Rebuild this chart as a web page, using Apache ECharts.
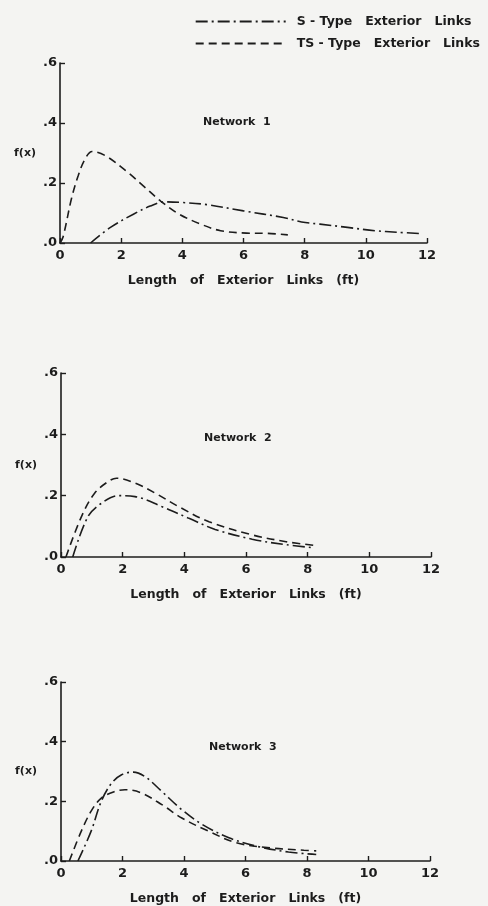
<!DOCTYPE html>
<html>
<head>
<meta charset="utf-8">
<script src="https://cdn.jsdelivr.net/npm/echarts@6/dist/echarts.min.js"></script>
<style>
  html, body { margin: 0; padding: 0; background: #f4f4f2; }
  #chart { width: 488px; height: 906px; }
</style>
</head>
<body>
<div id="chart"></div>
<script>
// ---- data (x in ft, f(x)) ----
var xTicks = [0, 2, 4, 6, 8, 10, 12];
var yTicks = [0, 0.2, 0.4, 0.6];
var panelTitles = ['Network  1', 'Network  2', 'Network  3'];
var seriesNames = ['S - Type   Exterior   Links', 'TS - Type   Exterior   Links'];

var net1S  = [[1.0,0],[1.65,0.052],[2.4,0.096],[2.95,0.123],[3.4,0.137],[4.0,0.135],[4.8,0.128],[6.0,0.107],[7.3,0.085],[7.9,0.07],[8.5,0.063],[9.4,0.052],[10.3,0.041],[11.0,0.036],[11.85,0.031]];
var net1TS = [[0,0],[0.1,0.02],[0.38,0.15],[0.6,0.226],[0.82,0.28],[1.05,0.305],[1.5,0.29],[2.2,0.237],[2.75,0.188],[3.3,0.139],[3.9,0.096],[4.6,0.063],[5.25,0.041],[6.1,0.033],[6.8,0.032],[7.45,0.027]];

var net2S  = [[0.38,0],[0.87,0.131],[1.31,0.175],[1.86,0.2],[2.4,0.197],[3.28,0.164],[4.15,0.126],[5.0,0.09],[6.2,0.058],[7.3,0.04],[8.2,0.03]];
var net2TS = [[0.16,0],[0.66,0.131],[1.09,0.208],[1.53,0.246],[1.8,0.257],[2.4,0.241],[3.06,0.208],[3.82,0.164],[4.8,0.115],[6.2,0.072],[7.3,0.05],[8.2,0.038]];

var net3S  = [[0.55,0],[0.98,0.1],[1.31,0.2],[1.64,0.26],[1.97,0.289],[2.35,0.298],[2.73,0.283],[3.28,0.233],[3.93,0.172],[4.6,0.122],[5.46,0.078],[6.34,0.05],[7.4,0.03],[8.3,0.022]];
var net3TS = [[0.27,0],[0.66,0.1],[0.98,0.167],[1.31,0.211],[1.75,0.233],[2.08,0.239],[2.62,0.228],[3.28,0.189],[3.93,0.144],[4.8,0.1],[5.7,0.061],[6.8,0.044],[7.9,0.036],[8.3,0.034]];

var panelS  = [net1S, net2S, net3S];
var panelTS = [net1TS, net2TS, net3TS];

// ---- layout / style ----
var INK = '#1c1c1c';
var FONT = 'DejaVu Sans';
var grids = [
  { left: 60, top: 63,  width: 367, height: 180 },
  { left: 61, top: 373, width: 370, height: 184 },
  { left: 61, top: 682, width: 369, height: 181 }
];
var titlePos = [ {left: 198, top: 112}, {left: 199, top: 428}, {left: 204, top: 737} ];
var dashS  = [12, 4, 2, 4];
var dashTS = [8, 5];

var xAxes = [], yAxes = [], series = [], titles = [];
for (var i = 0; i < 3; i++) {
  xAxes.push({
    type: 'value', gridIndex: i, min: xTicks[0], max: xTicks[xTicks.length - 1], interval: 2,
    axisLine: { lineStyle: { color: INK, width: 1.6 } },
    axisTick: { inside: true, length: 5, lineStyle: { color: INK, width: 1.4 } },
    splitLine: { show: false },
    axisLabel: { color: INK, fontFamily: FONT, fontWeight: 'bold', fontSize: 13, margin: 6 },
    name: 'Length   of   Exterior   Links   (ft)', nameLocation: 'middle', nameGap: 31,
    nameTextStyle: { color: INK, fontFamily: FONT, fontWeight: 'bold', fontSize: 12.5 }
  });
  yAxes.push({
    type: 'value', gridIndex: i, min: yTicks[0], max: yTicks[yTicks.length - 1], interval: 0.2,
    axisLine: { show: true, lineStyle: { color: INK, width: 1.6 } },
    axisTick: { show: true, inside: true, length: 5, lineStyle: { color: INK, width: 1.4 } },
    splitLine: { show: false },
    axisLabel: { color: INK, fontFamily: FONT, fontWeight: 'bold', fontSize: 13, margin: 3,
      formatter: function (v) { return v.toFixed(1).replace(/^0/, ''); } },
    name: 'f(x)', nameLocation: 'middle', nameRotate: 0, nameGap: 24,
    nameTextStyle: { color: INK, fontFamily: FONT, fontWeight: 'bold', fontSize: 11 }
  });
  series.push({
    name: seriesNames[0], type: 'line', xAxisIndex: i, yAxisIndex: i,
    data: panelS[i], smooth: 0.35, symbol: 'none', showSymbol: false,
    itemStyle: { color: INK },
    lineStyle: { color: INK, width: 1.6, type: dashS }
  });
  series.push({
    name: seriesNames[1], type: 'line', xAxisIndex: i, yAxisIndex: i,
    data: panelTS[i], smooth: 0.35, symbol: 'none', showSymbol: false,
    itemStyle: { color: INK },
    lineStyle: { color: INK, width: 1.6, type: dashTS }
  });
  titles.push({
    text: panelTitles[i], left: titlePos[i].left, top: titlePos[i].top,
    textStyle: { color: INK, fontFamily: FONT, fontWeight: 'bold', fontSize: 11 }
  });
}

var chart = echarts.init(document.getElementById('chart'), null, { renderer: 'canvas' });
chart.setOption({
  backgroundColor: '#f4f4f2',
  animation: false,
  title: titles,
  legend: {
    data: seriesNames, orient: 'vertical', right: 3, top: 10,
    itemWidth: 90, itemHeight: 12, itemGap: 9, align: 'left',
    itemStyle: { opacity: 0 },
    textStyle: { color: INK, fontFamily: FONT, fontWeight: 'bold', fontSize: 12.5, padding: [0, 0, 0, 6] }
  },
  grid: grids,
  xAxis: xAxes,
  yAxis: yAxes,
  series: series
});
</script>
</body>
</html>
